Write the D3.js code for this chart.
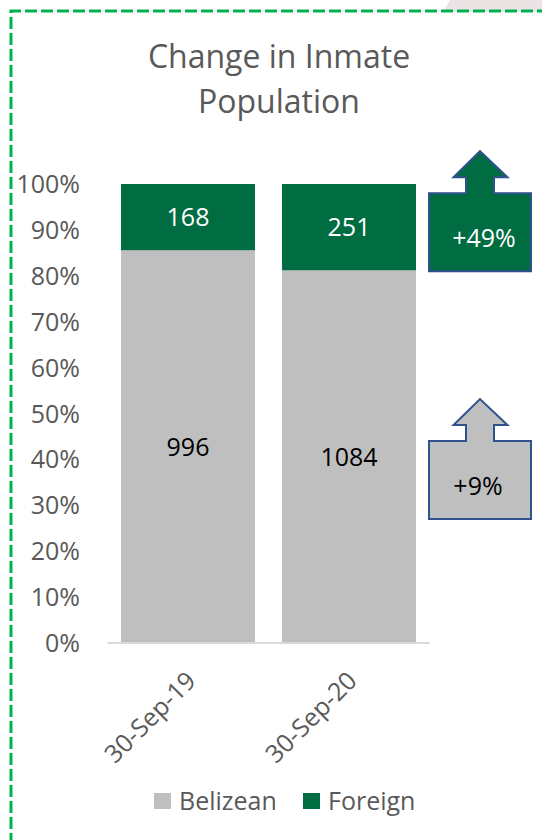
<!DOCTYPE html>
<html>
<head>
<meta charset="utf-8">
<script src="https://cdn.jsdelivr.net/npm/d3@7"></script>
<style>
  html, body { margin: 0; padding: 0; background: #fff; }
  svg { display: block; }
  text { font-family: "Open Sans", "Noto Sans", sans-serif; }
</style>
</head>
<body>
<svg id="chart" width="542" height="840"></svg>
<script>
// ---- data ----
const categories = ["30-Sep-19", "30-Sep-20"];
const seriesNames = ["Belizean", "Foreign"];
const belizean = [996, 1084];
const foreign = [168, 251];
const yTickLabels = ["0%", "10%", "20%", "30%", "40%", "50%", "60%", "70%", "80%", "90%", "100%"];
const colors = { Belizean: "#BFBFBF", Foreign: "#006C41" };

const svg = d3.select("#chart");
const W = 542, H = 840;

// faint shape top-right
svg.append("polygon")
  .attr("points", "450,0 542,0 542,12 443,12")
  .attr("fill", "#ece4e4");

// dashed border
svg.append("path")
  .attr("d", `M11,${H + 5} L11,11 L${W + 5},11`)
  .attr("fill", "none")
  .attr("stroke", "#00B050")
  .attr("stroke-width", 3)
  .attr("stroke-dasharray", "12,4");

// title
const title = svg.append("text")
  .attr("text-anchor", "middle")
  .attr("fill", "#595959")
  .style("font-size", "32px");
title.append("tspan").attr("x", 279).attr("y", 68).text("Change in Inmate");
title.append("tspan").attr("x", 279).attr("y", 113).text("Population");

// scales
const x = d3.scaleBand().domain(categories).range([107.5, 429.5]).paddingInner(0.168).paddingOuter(0.084);
const y = d3.scaleLinear().domain([0, 1]).range([643, 184]);

const rows = categories.map((c, i) => {
  const total = belizean[i] + foreign[i];
  return { cat: c, Belizean: belizean[i] / total, Foreign: foreign[i] / total, bv: belizean[i], fv: foreign[i] };
});
const stack = d3.stack().keys(seriesNames)(rows);

// y axis labels
const yTicks = d3.range(0, 11).map(d => d / 10);
svg.append("g").selectAll("text").data(yTicks).join("text")
  .attr("x", 80)
  .attr("y", d => y(d))
  .attr("dy", "0.36em")
  .attr("text-anchor", "end")
  .attr("fill", "#595959")
  .style("font-size", "25px")
  .text((d, i) => yTickLabels[i]);

// bars
const layers = svg.append("g").selectAll("g").data(stack).join("g")
  .attr("fill", d => colors[d.key]);
layers.selectAll("rect").data(d => d).join("rect")
  .attr("x", d => x(d.data.cat))
  .attr("width", x.bandwidth())
  .attr("y", d => y(d[1]))
  .attr("height", d => y(d[0]) - y(d[1]));

// bar value labels
stack.forEach(layer => {
  svg.append("g").selectAll("text").data(layer).join("text")
    .attr("x", d => x(d.data.cat) + x.bandwidth() / 2)
    .attr("y", d => (y(d[0]) + y(d[1])) / 2)
    .attr("dy", "0.36em")
    .attr("text-anchor", "middle")
    .attr("fill", layer.key === "Foreign" ? "#ffffff" : "#000000")
    .style("font-size", "25px")
    .text(d => layer.key === "Foreign" ? d.data.fv : d.data.bv);
});

// baseline
svg.append("line")
  .attr("x1", 107.5).attr("x2", 429.5)
  .attr("y1", y(0)).attr("y2", y(0))
  .attr("stroke", "#D9D9D9").attr("stroke-width", 2);

// x labels
svg.append("g").selectAll("text").data(categories).join("text")
  .attr("transform", d => `translate(${x(d) + x.bandwidth() / 2 + 3},${y(0) + 33}) rotate(-45)`)
  .attr("text-anchor", "end")
  .attr("dy", "0.36em")
  .attr("fill", "#595959")
  .style("font-size", "25px")
  .text(d => d);

// legend
const legend = svg.append("g");
const legendItems = [{ name: "Belizean", x: 154 }, { name: "Foreign", x: 303 }];
legendItems.forEach(it => {
  legend.append("rect").attr("x", it.x).attr("y", 793).attr("width", 17).attr("height", 16).attr("fill", colors[it.name]);
  legend.append("text").attr("x", it.x + 25).attr("y", 801).attr("dy", "0.36em")
    .attr("fill", "#595959").style("font-size", "25px").text(it.name);
});

// change arrows
const changes = [
  { key: "Foreign", top: 0.98, bottom: 0.81, pct: foreign[1] / foreign[0] - 1, text: "#ffffff" },
  { key: "Belizean", top: 0.44, bottom: 0.27, pct: belizean[1] / belizean[0] - 1, text: "#000000" }
];
const ax0 = 429, ax1 = 531, cx = 480;
changes.forEach(c => {
  const yt = y(c.top), yb = y(c.bottom);
  const p = d3.path();
  p.moveTo(ax0, yt);
  p.lineTo(466, yt);
  p.lineTo(466, yt - 16);
  p.lineTo(453.5, yt - 16);
  p.lineTo(cx, yt - 42);
  p.lineTo(507.5, yt - 16);
  p.lineTo(494, yt - 16);
  p.lineTo(494, yt);
  p.lineTo(ax1, yt);
  p.lineTo(ax1, yb);
  p.lineTo(ax0, yb);
  p.closePath();
  svg.append("path").attr("d", p.toString())
    .attr("fill", colors[c.key])
    .attr("stroke", "#2F528F").attr("stroke-width", 2).attr("stroke-linejoin", "miter");
  svg.append("text")
    .attr("x", cx + (c.key === "Foreign" ? 4 : -2)).attr("y", (yt + yb) / 2 + 6)
    .attr("dy", "0.36em").attr("text-anchor", "middle")
    .attr("fill", c.text).style("font-size", "25px")
    .text("+" + Math.round(c.pct * 100) + "%");
});
</script>
</body>
</html>
